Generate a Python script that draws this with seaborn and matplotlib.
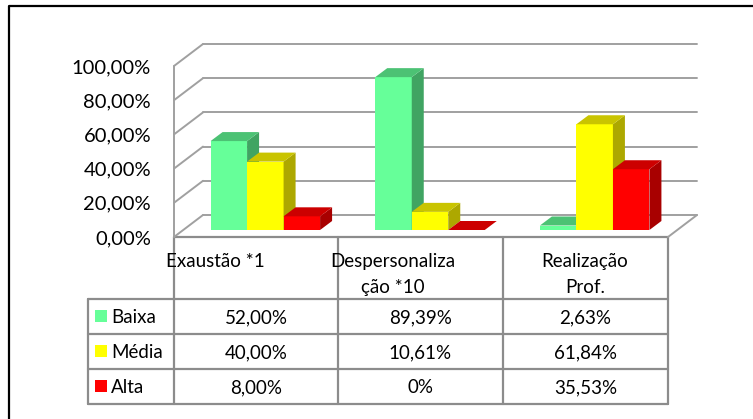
import numpy as np
import pandas as pd
import matplotlib
matplotlib.use("Agg")
import matplotlib.pyplot as plt
import seaborn as sns
from matplotlib.patches import Polygon, Rectangle

# ---------------- data ----------------
categories = ["Exaustão *1", "Despersonalização *10", "Realização Prof."]
header_labels = ["Exaustão *1", "Despersonaliza\nção *10", "Realização\nProf."]
levels = ["Baixa", "Média", "Alta"]
baixa = [52.00, 89.39, 2.63]
media = [40.00, 10.61, 61.84]
alta = [8.00, 0.00, 35.53]
baixa_txt = ["52,00%", "89,39%", "2,63%"]
media_txt = ["40,00%", "10,61%", "61,84%"]
alta_txt = ["8,00%", "0%", "35,53%"]
yticks = [0, 20, 40, 60, 80, 100]
ytick_labels = ["0,00%", "20,00%", "40,00%", "60,00%", "80,00%", "100,00%"]

front_colors = ["#66FF99", "#FFFF00", "#FF0000"]
side_colors = ["#40A462", "#ADA800", "#A80000"]
top_colors = ["#4CC274", "#C9C400", "#CC0000"]

# ---------------- style ----------------
sns.set_theme(style="white")
plt.rcParams["font.family"] = ["Lato", "DejaVu Sans"]
FS_TICK = 14.5
FS_TAB = 13.5

W, H, DPI = 753, 419, 100
fig = plt.figure(figsize=(W / DPI, H / DPI), dpi=DPI, facecolor="white")


def rect(x0, y0, x1, y1):
    return [x0 / W, 1 - y1 / H, (x1 - x0) / W, (y1 - y0) / H]


FX0, FX1, FY0 = 174, 668, 237
PX_PCT = 1.71
FYT = FY0 - 100 * PX_PCT
UNIT = (FX1 - FX0) / 3.0

# overlay in pixel coords (table, border)
tx = fig.add_axes([0, 0, 1, 1])
tx.set_xlim(0, W)
tx.set_ylim(H, 0)
tx.axis("off")
tx.set_zorder(0)

# front frame axes (ticks + walls)
ax = fig.add_axes(rect(FX0, FYT, FX1, FY0))
ax.set_zorder(1)
ax.patch.set_visible(False)
ax.set_xlim(-0.5, 2.5)
ax.set_ylim(0, 100)
for s in ax.spines.values():
    s.set_visible(False)
ax.set_xticks([])
ax.set_yticks(yticks)
ax.set_yticklabels(ytick_labels, fontsize=FS_TICK, color="black")
ax.tick_params(axis="y", length=0, pad=16.5)

DX = 29 / UNIT
DY = 22 / PX_PCT
gcol, glw = "#A0A0A0", 1.4
for v in yticks:
    ax.plot([-0.5 + DX, 2.5 + DX], [v + DY, v + DY], color=gcol, lw=glw, clip_on=False, zorder=1)
    ax.plot([-0.5, -0.5 + DX], [v, v + DY], color=gcol, lw=glw, clip_on=False, zorder=1)
ax.plot([-0.5, -0.5], [0, 100], color=gcol, lw=glw, clip_on=False, zorder=1)
ax.plot([2.5, 2.5 + DX], [0, DY], color=gcol, lw=glw, clip_on=False, zorder=1)

# bars axes (offset in depth)
BOX, BOY = 9, 7
bax = fig.add_axes(rect(FX0 + BOX, FYT - BOY, FX1 + BOX, FY0 - BOY))
bax.set_zorder(2)
bax.patch.set_visible(False)

df = pd.DataFrame({
    "categoria": categories * 3,
    "nivel": [levels[0]] * 3 + [levels[1]] * 3 + [levels[2]] * 3,
    "valor": baixa + media + alta,
})
sns.barplot(data=df, x="categoria", y="valor", hue="nivel", order=categories,
            hue_order=levels, palette=front_colors, saturation=1, width=0.665,
            gap=0, linewidth=0, errorbar=None, legend=False, ax=bax)

bdx = 12 / UNIT
bdy = 9 / PX_PCT
for i, cont in enumerate(bax.containers):
    for p in cont:
        x0 = p.get_x()
        w = p.get_width()
        h = p.get_height()
        x1 = x0 + w
        p.set_zorder(10 + 3 * i)
        p.set_clip_on(False)
        side = Polygon([(x1, 0), (x1 + bdx, bdy), (x1 + bdx, h + bdy), (x1, h)],
                       closed=True, facecolor=side_colors[i], edgecolor="none",
                       zorder=11 + 3 * i, clip_on=False)
        top = Polygon([(x0, h), (x0 + bdx, h + bdy), (x1 + bdx, h + bdy), (x1, h)],
                      closed=True, facecolor=top_colors[i], edgecolor="none",
                      zorder=11 + 3 * i, clip_on=False)
        bax.add_patch(side)
        bax.add_patch(top)

bax.set_xlim(-0.5, 2.5)
bax.set_ylim(0, 100)
bax.axis("off")

# ---------------- table ----------------
tcol, tlw = "#8C8C8C", 1.6
col_x = [174, 338, 503, 668]
row_y = [299, 334, 369, 404]
LEG_X0 = 88
tx.plot([col_x[0], col_x[-1]], [FY0, FY0], color=tcol, lw=tlw)
for y in row_y:
    tx.plot([LEG_X0, col_x[-1]], [y, y], color=tcol, lw=tlw)
for x in col_x:
    tx.plot([x, x], [FY0, row_y[-1]], color=tcol, lw=tlw)
tx.plot([LEG_X0, LEG_X0], [row_y[0], row_y[-1]], color=tcol, lw=tlw)

header_cx = [215, 393, 585]
for cx, lab in zip(header_cx, header_labels):
    for k, line in enumerate(lab.split("\n")):
        tx.text(cx, 267 + 25.5 * k, line, ha="center", va="baseline",
                fontsize=FS_TAB, color="black")

rows_txt = [baixa_txt, media_txt, alta_txt]
for r, (lev, vals) in enumerate(zip(levels, rows_txt)):
    ytop = row_y[r]
    ybase = ytop + 24
    tx.add_patch(Rectangle((95, ytop + 11), 12, 12, facecolor=front_colors[r], edgecolor="none"))
    tx.text(111, ybase, lev, ha="left", va="baseline", fontsize=FS_TAB, color="black")
    for c, v in enumerate(vals):
        cx = (col_x[c] + col_x[c + 1]) / 2
        tx.text(cx, ybase, v, ha="center", va="baseline", fontsize=FS_TAB, color="black")

# outer border
tx.plot([9, 9, W], [H, 6, 6], color="black", lw=1.6, solid_capstyle="butt")

fig.savefig("out.png", dpi=DPI, facecolor="white")
